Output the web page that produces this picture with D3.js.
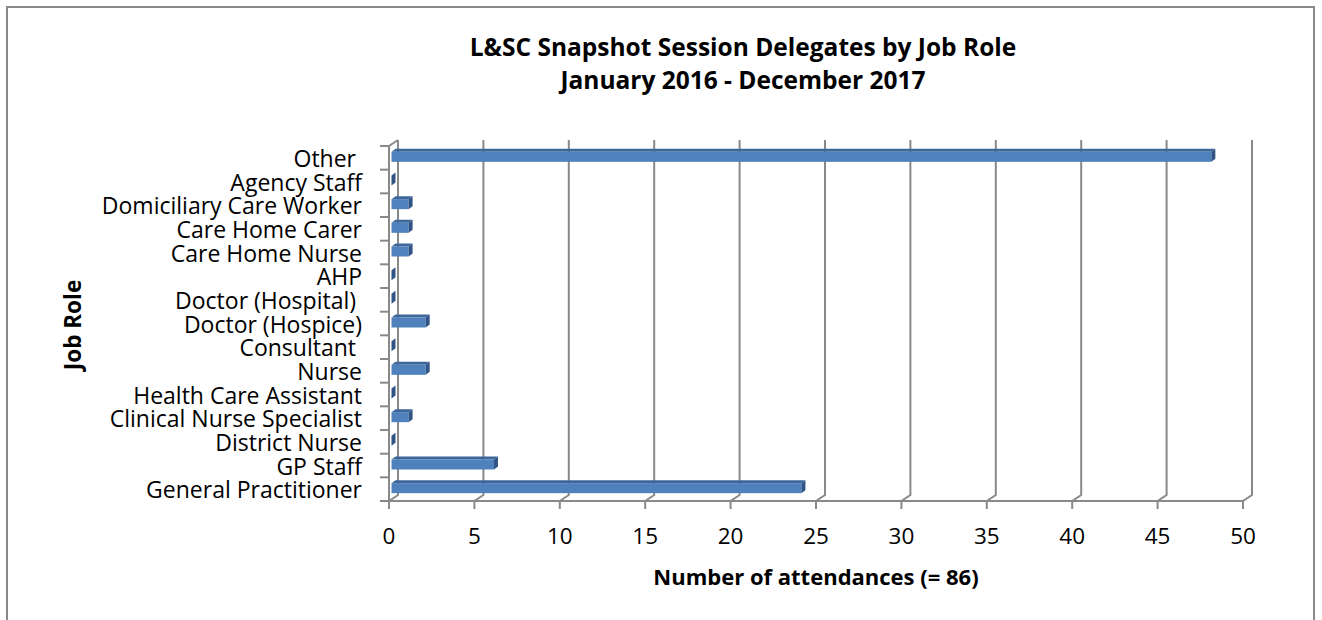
<!DOCTYPE html>
<html>
<head>
<meta charset="utf-8">
<script src="https://cdn.jsdelivr.net/npm/d3@7"></script>
<style>
  body { margin: 0; background: #fff; }
  text { font-family: "Open Sans", sans-serif; fill: #000; white-space: pre; }
</style>
</head>
<body>
<script>
// Data
var roles = ["Other ", "Agency Staff", "Domiciliary Care Worker", "Care Home Carer", "Care Home Nurse",
  "AHP", "Doctor (Hospital) ", "Doctor (Hospice)", "Consultant ", "Nurse", "Health Care Assistant",
  "Clinical Nurse Specialist", "District Nurse", "GP Staff", "General Practitioner"];
var attendances = [48, 0, 1, 1, 1, 0, 0, 2, 0, 2, 0, 1, 0, 6, 24];
var xTicks = [0, 5, 10, 15, 20, 25, 30, 35, 40, 45, 50];
var titleLines = ["L&SC Snapshot Session Delegates by Job Role", "January 2016 - December 2017"];
var xTitle = "Number of attendances (= 86)";
var yTitle = "Job Role";

var svgWidth = 1322;
var svgHeight = 620;

// 3D wall offset
var depth = { dx: 9, dy: -6 };
var gridColor = "#898989";

var svg = d3.select("body")
  .append("svg")
  .attr("width", svgWidth)
  .attr("height", svgHeight);

// outer frame
svg.append("rect")
  .attr("x", 7)
  .attr("y", 7)
  .attr("width", 1307)
  .attr("height", 660)
  .attr("fill", "none")
  .attr("stroke", gridColor)
  .attr("stroke-width", 2);

var x = d3.scaleLinear()
  .domain([0, 50])
  .range([389, 1243]);

var y = d3.scaleBand()
  .domain(roles)
  .range([146, 501]);

var plotTop = y.range()[0], plotBottom = y.range()[1];

// back wall gridlines, with their fold down to the front axis
var grid = svg.append("g");
xTicks.forEach(function (t) {
  var xf = x(t), xb = x(t) + depth.dx;
  grid.append("path")
    .attr("d", "M" + xb + "," + (plotTop + depth.dy) + "V" + (plotBottom + depth.dy) + "L" + xf + "," + plotBottom + "V" + (plotBottom + 8))
    .attr("fill", "none")
    .attr("stroke", gridColor)
    .attr("stroke-width", 2);
});

// left side wall front edge and top fold
svg.append("path")
  .attr("d", "M" + x(0) + "," + plotBottom + "V" + plotTop + "L" + (x(0) + depth.dx) + "," + (plotTop + depth.dy))
  .attr("fill", "none")
  .attr("stroke", gridColor)
  .attr("stroke-width", 2);

// bottom axis line
svg.append("line")
  .attr("x1", x(0)).attr("x2", x(50))
  .attr("y1", plotBottom).attr("y2", plotBottom)
  .attr("stroke", gridColor)
  .attr("stroke-width", 2);

// category tick marks on the left
var bounds = roles.map(function (r) { return y(r); }).concat([plotBottom]);
svg.selectAll(".ytick")
  .data(bounds)
  .enter().append("line")
  .attr("x1", x(0) - 9).attr("x2", x(0))
  .attr("y1", d => d).attr("y2", d => d)
  .attr("stroke", gridColor)
  .attr("stroke-width", 2);

// x tick labels
svg.selectAll(".xlabel")
  .data(xTicks)
  .enter().append("text")
  .attr("x", d => x(d))
  .attr("y", 544)
  .attr("text-anchor", "middle")
  .style("font-size", "22.5px")
  .text(d => d);

// category labels
svg.selectAll(".ylabel")
  .data(roles)
  .enter().append("text")
  .attr("x", 362)
  .attr("y", d => y(d) + y.bandwidth() / 2 + 9)
  .attr("text-anchor", "end")
  .style("font-size", "23px")
  .text(d => d);

// bars (front face, top face, end face)
var bd = { dx: 4, dy: -3 };
var bars = svg.selectAll(".bar")
  .data(roles.map(function (r, i) { return { role: r, value: attendances[i] }; }))
  .enter().append("g");

bars.each(function (d) {
  var g = d3.select(this);
  var c = y(d.role) + y.bandwidth() / 2;
  var x0 = x(0) + 2.5, x1 = x(d.value) + 2.5;
  var y0 = c - 6, y1 = c + 4;
  if (d.value > 0) {
    g.append("path")
      .attr("d", "M" + x0 + "," + y0 + "L" + (x0 + bd.dx) + "," + (y0 + bd.dy) + "H" + (x1 + bd.dx) + "L" + x1 + "," + y0 + "Z")
      .attr("fill", "#3d679b");
    g.append("rect")
      .attr("x", x0).attr("y", y0)
      .attr("width", x1 - x0).attr("height", y1 - y0)
      .attr("fill", "#4f81bd");
  }
  g.append("path")
    .attr("d", "M" + x1 + "," + y0 + "L" + (x1 + bd.dx) + "," + (y0 + bd.dy) + "V" + (y1 + bd.dy) + "L" + x1 + "," + y1 + "Z")
    .attr("fill", "#2f5485");
});

// titles
svg.selectAll(".title")
  .data(titleLines)
  .enter().append("text")
  .attr("x", 743)
  .attr("y", (d, i) => 56 + i * 33)
  .attr("text-anchor", "middle")
  .style("font-size", "24.5px")
  .style("font-weight", "bold")
  .text(d => d);

svg.append("text")
  .attr("x", 816)
  .attr("y", 585)
  .attr("text-anchor", "middle")
  .style("font-size", "22px")
  .style("font-weight", "bold")
  .text(xTitle);

svg.append("text")
  .attr("transform", "translate(81,325) rotate(-90)")
  .attr("text-anchor", "middle")
  .style("font-size", "22.5px")
  .style("font-weight", "bold")
  .text(yTitle);
</script>
</body>
</html>
